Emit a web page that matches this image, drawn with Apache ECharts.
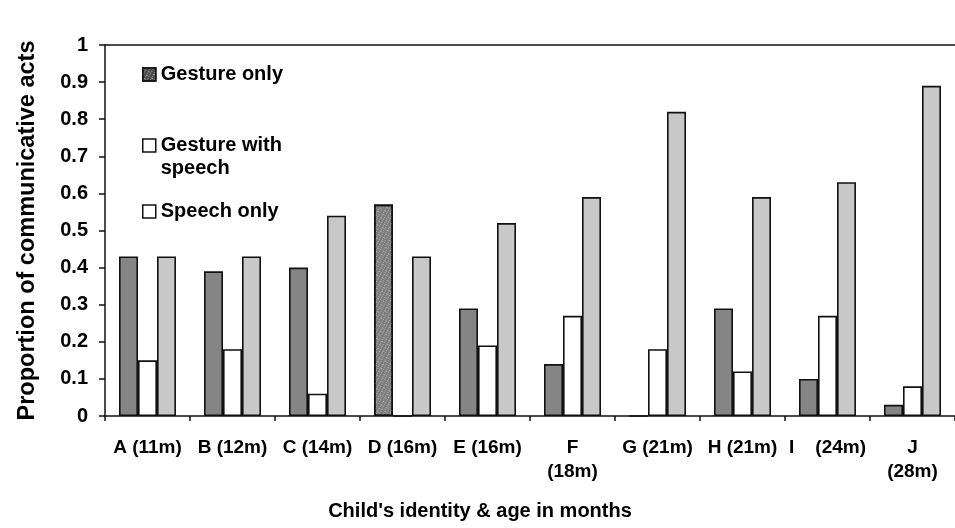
<!DOCTYPE html>
<html>
<head>
<meta charset="utf-8">
<script src="https://cdn.jsdelivr.net/npm/echarts@6/dist/echarts.min.js"></script>
<style>
  html, body { margin: 0; padding: 0; background: #fff; }
  #chart { width: 955px; height: 528px; }
</style>
</head>
<body>
<div id="chart"></div>
<script>
// Children and their ages
const categories = ['A (11m)', 'B (12m)', 'C (14m)', 'D (16m)', 'E (16m)', 'F\n(18m)', 'G (21m)', 'H (21m)', 'I    (24m)', 'J\n(28m)'];

// Proportion of communicative acts per modality
const gestureOnly       = [0.43, 0.39, 0.40, 0.57, 0.29, 0.14, 0.00, 0.29, 0.10, 0.03];
const gestureWithSpeech = [0.15, 0.18, 0.06, 0.00, 0.19, 0.27, 0.18, 0.12, 0.27, 0.08];
const speechOnly        = [0.43, 0.43, 0.54, 0.43, 0.52, 0.59, 0.82, 0.59, 0.63, 0.89];

const seriesNames = ['Gesture only', 'Gesture with\nspeech', 'Speech only'];
const yMin = 0, yMax = 1, yStep = 0.1;

const FONT = '"Liberation Sans", Arial, sans-serif';
const INK = '#111';

// speckled fill used for child D's gesture bar and the legend key
const speckle = {
  symbol: 'rect',
  symbolSize: 1,
  color: 'rgba(200,200,200,0.65)',
  dashArrayX: [[1, 2], [2, 1, 1, 2]],
  dashArrayY: [1, 1],
  rotation: 0.5
};

const gestureData = gestureOnly.map((v, i) =>
  i === 3 ? { value: v, itemStyle: { color: '#7c7c7c', decal: speckle } } : v
);

function barSeries(name, data, color) {
  return {
    name: name,
    type: 'bar',
    data: data,
    barWidth: 19,
    barGap: '0%',
    itemStyle: { color: color, borderColor: INK, borderWidth: 1.6 }
  };
}

function legendBlock(name, top, style, formatter) {
  const lg = {
    show: true,
    left: 142,
    top: top,
    padding: 0,
    orient: 'vertical',
    icon: 'rect',
    itemWidth: 13,
    itemHeight: 13,
    selectedMode: false,
    data: [{ name: name, itemStyle: style }],
    textStyle: { fontFamily: FONT, fontWeight: 'bold', fontSize: 20, color: '#000', lineHeight: 23 }
  };
  if (formatter) lg.formatter = formatter;
  return lg;
}

const chart = echarts.init(document.getElementById('chart'), null, { renderer: 'canvas' });

chart.setOption({
  backgroundColor: '#fff',
  animation: false,
  grid: { left: 105, right: -10, top: 45, bottom: 112 },
  legend: [
    legendBlock(seriesNames[0], 63,
      { color: '#4a4a4a', borderColor: INK, borderWidth: 1.5, decal: speckle }),
    // leading blank line keeps the key square beside the first text line
    legendBlock(seriesNames[1], 111,
      { color: '#fff', borderColor: INK, borderWidth: 1.5 },
      n => '\n' + n),
    legendBlock(seriesNames[2], 200,
      { color: '#fff', borderColor: INK, borderWidth: 1.5 })
  ],
  xAxis: [
    {
      type: 'category',
      data: categories,
      position: 'bottom',
      name: "Child's identity & age in months",
      nameLocation: 'middle',
      nameGap: 85,
      nameTextStyle: {
        fontFamily: FONT, fontWeight: 'bold', fontSize: 20, color: '#000',
        padding: [0, 100, 0, 0]
      },
      axisLine: { lineStyle: { color: INK, width: 1.5 } },
      axisTick: { show: true, length: 5, lineStyle: { color: INK, width: 1.5 } },
      axisLabel: {
        interval: 0,
        margin: 20,
        fontFamily: FONT, fontWeight: 'bold', fontSize: 19, color: '#000',
        lineHeight: 24
      }
    },
    {
      type: 'category',
      data: categories,
      position: 'top',
      axisLine: { show: true, lineStyle: { color: INK, width: 1.5 } },
      axisTick: { show: false },
      axisLabel: { show: false }
    }
  ],
  yAxis: {
    type: 'value',
    min: yMin,
    max: yMax,
    interval: yStep,
    name: 'Proportion of communicative acts',
    nameLocation: 'middle',
    nameGap: 65,
    nameTextStyle: { fontFamily: FONT, fontWeight: 'bold', fontSize: 23.5, color: '#000' },
    axisLine: { show: true, lineStyle: { color: INK, width: 1.5 } },
    axisTick: { show: true, length: 6, lineStyle: { color: INK, width: 1.5 } },
    splitLine: { show: false },
    axisLabel: {
      margin: 17,
      fontFamily: FONT, fontWeight: 'bold', fontSize: 20, color: '#000',
      formatter: v => String(Math.round(v * 10) / 10)
    }
  },
  series: [
    barSeries(seriesNames[0], gestureData, '#858585'),
    barSeries(seriesNames[1], gestureWithSpeech, '#ffffff'),
    barSeries(seriesNames[2], speechOnly, '#c8c8c8')
  ]
});
</script>
</body>
</html>
